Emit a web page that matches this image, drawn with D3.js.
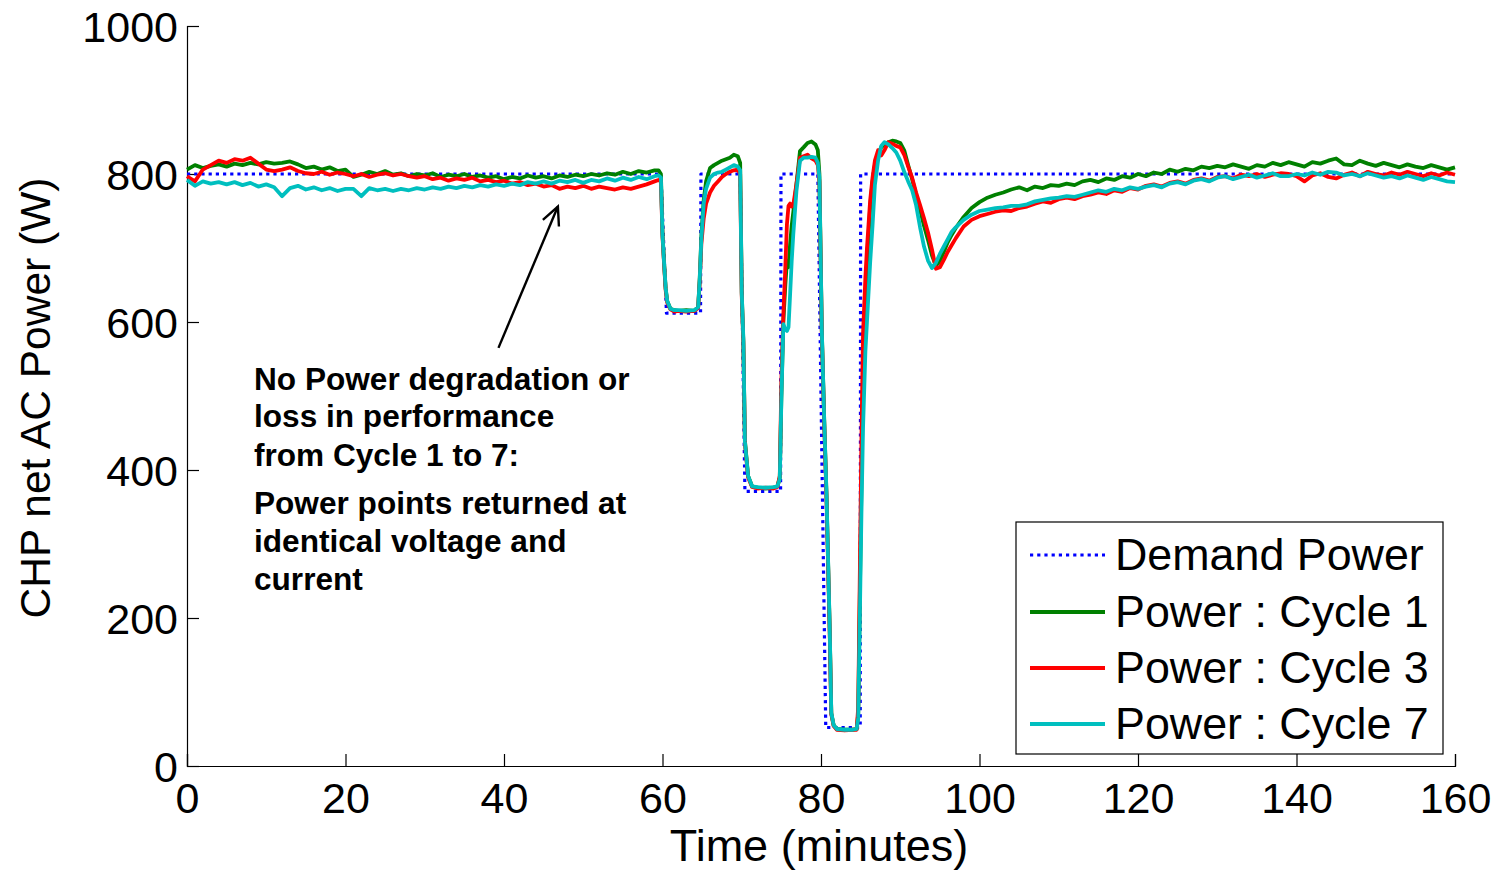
<!DOCTYPE html>
<html>
<head>
<meta charset="utf-8">
<script src="https://cdn.jsdelivr.net/npm/d3@7"></script>
<style>
    body { margin: 0; background: #fff; }
    svg { display: block; font-family: Arial, "Liberation Sans", sans-serif; }
</style>
</head>
<body>
<svg id="chart"></svg>
<script>
// Demand power set points (step profile)
const demandMinutes = [0, 59.8, 60.5, 64.8, 64.85, 69.8, 70.4, 74.9, 74.95, 79.6, 80.6, 84.95, 85.0, 160];
const demandWatts = [800, 800, 612, 612, 800, 800, 371, 371, 800, 800, 52, 52, 800, 800];

// Time grid shared by the measured cycles: steady part, step tests, recovery
const minutesSteady = [0, 1, 2, 3, 4, 5, 6, 7, 8, 9, 10, 11, 12, 13, 14, 15, 16, 17, 18, 19,
    20, 21, 22, 23, 24, 25, 26, 27, 28, 29, 30, 31, 32, 33, 34, 35, 36, 37, 38, 39,
    40, 41, 42, 43, 44, 45, 46, 47, 48, 49, 50, 51, 52, 53, 54, 55, 56, 57, 58, 59];
const minutesSteps = [59.5, 59.8, 60, 60.2, 60.4, 60.6, 61, 61.5, 62, 63, 64, 64.5, 64.7, 64.9, 65.2, 65.5,
    66, 66.5, 67, 67.5, 68, 68.5, 69, 69.5, 69.8, 70, 70.2, 70.4, 70.8, 71.3, 72, 73, 74, 74.5, 74.8,
    75, 75.25, 75.5, 75.7, 75.9, 76.1, 76.3, 76.5, 76.9, 77.35, 77.8, 78.3, 78.8, 79.3, 79.6, 79.8,
    80.1, 80.4, 80.7, 81.1, 81.3, 81.6, 82, 83, 84, 84.5, 84.7, 84.9, 85.1, 85.3, 85.6, 85.8, 86.2,
    86.5, 86.8, 87.2, 87.6, 88, 88.5, 89, 89.5, 90, 90.5, 91, 91.5, 92, 92.5, 93, 93.5, 94, 94.5,
    95, 95.5, 96, 96.5, 97, 98, 99];
const minutesRecovery = [100, 101, 102, 103, 104, 105, 106, 107, 108, 109, 110, 111, 112, 113, 114, 115,
    116, 117, 118, 119, 120, 121, 122, 123, 124, 125, 126, 127, 128, 129, 130, 131, 132, 133, 134, 135,
    136, 137, 138, 139, 140, 141, 142, 143, 144, 145, 146, 147, 148, 149, 150, 151, 152, 153, 154, 155,
    156, 157, 158, 159, 160];

// Cycle 1 (W)
const cycle1Steady = [806, 812, 808, 811, 813, 810, 814, 812, 815, 813, 816, 814, 815, 817, 813, 808, 810, 806, 809, 804,
    806, 796, 799, 803, 800, 804, 799, 801, 797, 800, 798, 801, 796, 799, 797, 800, 796, 798, 795, 797,
    793, 796, 794, 798, 795, 797, 794, 798, 796, 799, 797, 800, 798, 801, 799, 803, 800, 804, 802, 805];
const cycle1Steps = [805, 800, 720, 680, 645, 628, 618, 616, 615, 616, 615, 620, 660, 715, 765, 790,
    808, 812, 815, 818, 820, 822, 826, 824, 815, 640, 575, 440, 392, 378, 376, 375, 376, 378, 390,
    500, 600, 650, 682, 674, 705, 730, 748, 786, 831, 836, 842, 844, 840, 832, 800,
    590, 470, 364, 184, 71, 55, 50, 49, 49, 50, 71, 229, 380, 520, 620, 680, 755,
    790, 812, 828, 836, 840, 843, 845, 844, 842, 832, 812, 793, 772, 752, 730, 711, 690, 676,
    682, 695, 708, 718, 727, 742, 754];
const cycle1Recovery = [762, 768, 772, 775, 779, 782, 778, 783, 781, 785, 784, 787, 785, 790, 792, 789,
    794, 792, 797, 795, 800, 797, 802, 800, 806, 803, 807, 805, 810, 808, 811, 809, 813, 810, 807, 812,
    810, 815, 812, 816, 813, 810, 816, 814, 818, 821, 813, 812, 818, 814, 811, 815, 812, 809, 813, 810,
    808, 812, 809, 806, 809];

// Cycle 3 (W)
const cycle3Steady = [797, 790, 806, 812, 818, 815, 820, 818, 822, 814, 806, 804, 806, 809, 804, 801, 800, 803, 799, 802,
    800, 797, 800, 796, 799, 801, 798, 800, 797, 795, 797, 793, 795, 791, 794, 792, 795, 790, 792, 789,
    791, 787, 789, 785, 787, 783, 785, 780, 783, 781, 784, 780, 783, 781, 779, 782, 780, 783, 786, 790];
const cycle3Steps = [792, 790, 715, 678, 643, 626, 617, 614, 615, 614, 615, 619, 655, 705, 740, 760,
    775, 784, 790, 796, 800, 803, 805, 806, 800, 635, 572, 436, 390, 377, 375, 376, 375, 377, 392,
    520, 610, 674, 732, 757, 760, 756, 758, 786, 822, 824, 826, 821, 818, 812, 790,
    585, 465, 360, 180, 70, 54, 49, 48, 49, 49, 80, 260, 440, 583, 660, 700, 764,
    795, 818, 832, 825, 832, 843, 841, 838, 836, 826, 810, 795, 775, 758, 740, 721, 698, 672,
    674, 684, 695, 704, 713, 729, 738];
const cycle3Recovery = [743, 746, 749, 751, 750, 754, 756, 760, 763, 761, 766, 768, 766, 770, 772, 775,
    773, 778, 776, 781, 779, 784, 786, 783, 788, 790, 787, 792, 794, 791, 796, 797, 794, 799, 797, 800,
    796, 799, 801, 800, 797, 790, 798, 801, 796, 794, 799, 802, 797, 803, 800, 798, 802, 799, 803, 800,
    797, 801, 798, 802, 799];

// Cycle 7 (W)
const cycle7Steady = [792, 784, 790, 787, 789, 786, 789, 785, 788, 783, 786, 782, 770, 781, 784, 779, 782, 778, 781, 777,
    780, 780, 770, 781, 778, 780, 777, 780, 778, 781, 779, 782, 780, 783, 781, 784, 782, 785, 783, 786,
    784, 787, 785, 789, 787, 790, 787, 791, 789, 792, 788, 792, 790, 794, 791, 795, 792, 796, 793, 797];
const cycle7Steps = [798, 795, 718, 680, 646, 628, 618, 616, 616, 615, 616, 620, 658, 712, 760, 780,
    795, 800, 802, 803, 806, 809, 812, 810, 805, 640, 578, 438, 392, 378, 377, 376, 377, 378, 388,
    495, 597, 590, 588, 593, 637, 682, 718, 777, 818, 822, 822, 823, 822, 815, 795,
    590, 470, 366, 186, 72, 55, 50, 49, 49, 50, 65, 200, 340, 455, 560, 600, 680,
    730, 785, 818, 838, 843, 840, 835, 829, 818, 803, 790, 778, 758, 728, 702, 683, 673, 680,
    692, 702, 712, 722, 728, 738, 745];
const cycle7Recovery = [750, 752, 754, 755, 757, 757, 759, 763, 765, 767, 768, 770, 769, 772, 775, 778,
    776, 780, 778, 782, 780, 783, 785, 782, 787, 789, 786, 791, 793, 790, 795, 797, 793, 796, 799, 795,
    798, 801, 797, 797, 800, 798, 802, 799, 803, 802, 798, 800, 797, 801, 798, 795, 797, 794, 798, 795,
    792, 796, 793, 790, 789];

// Axis ticks
const xTicks = [0, 20, 40, 60, 80, 100, 120, 140, 160];
const yTicks = [0, 200, 400, 600, 800, 1000];

const seriesNames = ['Demand Power', 'Power : Cycle 1', 'Power : Cycle 3', 'Power : Cycle 7'];
const seriesColors = ['#0000FF', '#008000', '#FF0000', '#00BFBF'];

const annotationLines = [
    'No Power degradation or',
    'loss in performance',
    'from Cycle 1 to 7:',
    'Power points returned at',
    'identical voltage and',
    'current'
];

// Chart dimensions
const width = 1497;
const height = 872;
const margin = { top: 26, right: 42, bottom: 106, left: 187 };

const svg = d3.select('#chart')
    .attr('width', width)
    .attr('height', height);

svg.append('rect').attr('width', width).attr('height', height).attr('fill', '#fff');

const x = d3.scaleLinear().domain([0, 160]).range([margin.left, width - margin.right]);
const y = d3.scaleLinear().domain([0, 1000]).range([height - margin.bottom, margin.top]);

// Build point lists for each series
const minutesAll = minutesSteady.concat(minutesSteps, minutesRecovery);
const toPoints = (xs, ys) => xs.map((t, i) => [t, ys[i]]);

const series = [
    toPoints(demandMinutes, demandWatts),
    toPoints(minutesAll, cycle1Steady.concat(cycle1Steps, cycle1Recovery)),
    toPoints(minutesAll, cycle3Steady.concat(cycle3Steps, cycle3Recovery)),
    toPoints(minutesAll, cycle7Steady.concat(cycle7Steps, cycle7Recovery))
];

const line = d3.line().x(d => x(d[0])).y(d => y(d[1]));

// Axes (left and bottom only, ticks pointing inwards)
const xAxis = svg.append('g')
    .attr('transform', `translate(0,${y(0)})`)
    .call(d3.axisBottom(x).tickValues(xTicks).tickSize(-12).tickPadding(16).tickFormat(d3.format('d')));
const yAxis = svg.append('g')
    .attr('transform', `translate(${x(0)},0)`)
    .call(d3.axisLeft(y).tickValues(yTicks).tickSize(-12).tickPadding(9).tickFormat(d3.format('d')));

[xAxis, yAxis].forEach(ax => {
    ax.select('.domain').attr('stroke', '#000').attr('stroke-width', 1.2);
    ax.selectAll('.tick line').attr('stroke', '#000').attr('stroke-width', 1.2);
    ax.selectAll('.tick text')
        .attr('fill', '#000')
        .style('font-size', '43px')
        .style('font-family', 'Arial, "Liberation Sans", sans-serif');
});
xAxis.selectAll('.tick text').attr('dy', '0.71em');
yAxis.selectAll('.tick text').attr('dy', '0.36em');

// Axis titles
svg.append('text')
    .attr('x', (x(0) + x(160)) / 2 - 2)
    .attr('y', 861)
    .attr('text-anchor', 'middle')
    .style('font-size', '45px')
    .text('Time (minutes)');

svg.append('text')
    .attr('transform', `translate(50,${(y(0) + y(1000)) / 2 + 2}) rotate(-90)`)
    .attr('text-anchor', 'middle')
    .style('font-size', '42.5px')
    .text('CHP net AC Power (W)');

// Data lines
svg.append('g')
    .selectAll('path')
    .data(series)
    .enter()
    .append('path')
    .attr('d', line)
    .attr('fill', 'none')
    .attr('stroke', (d, i) => seriesColors[i])
    .attr('stroke-width', (d, i) => i === 0 ? 3.2 : 3.8)
    .attr('stroke-dasharray', (d, i) => i === 0 ? '3.2,4' : null)
    .attr('stroke-linejoin', 'round')
    .attr('stroke-linecap', 'butt');

// Annotation arrow
const tail = [x(39.3), y(565)];
const tip = [x(46.8), y(756)];
const ang = Math.atan2(tip[1] - tail[1], tip[0] - tail[0]);
const headLen = 20;
const ann = svg.append('g').attr('stroke', '#000').attr('stroke-width', 2.4).attr('fill', 'none');
ann.append('line')
    .attr('x1', tail[0]).attr('y1', tail[1])
    .attr('x2', tip[0]).attr('y2', tip[1]);
ann.append('path')
    .attr('d', `M${tip[0] + headLen * Math.cos(ang + Math.PI - 0.45)},${tip[1] + headLen * Math.sin(ang + Math.PI - 0.45)}` +
        `L${tip[0]},${tip[1]}` +
        `L${tip[0] + headLen * Math.cos(ang + Math.PI + 0.45)},${tip[1] + headLen * Math.sin(ang + Math.PI + 0.45)}`);

// Annotation text
const annBaselines = [390, 427, 466, 514, 552, 590];
svg.append('g')
    .selectAll('text')
    .data(annotationLines)
    .enter()
    .append('text')
    .attr('x', 254)
    .attr('y', (d, i) => annBaselines[i])
    .style('font-size', '31.6px')
    .style('font-weight', 'bold')
    .text(d => d);

// Legend
const legend = svg.append('g');
legend.append('rect')
    .attr('x', 1016).attr('y', 522)
    .attr('width', 427).attr('height', 232)
    .attr('fill', '#fff')
    .attr('stroke', '#000')
    .attr('stroke-width', 1.2);

const legendBaselines = [570, 627, 683, 739];
seriesNames.forEach((name, i) => {
    legend.append('line')
        .attr('x1', 1030).attr('x2', 1105)
        .attr('y1', legendBaselines[i] - 15).attr('y2', legendBaselines[i] - 15)
        .attr('stroke', seriesColors[i])
        .attr('stroke-width', i === 0 ? 3.2 : 3.8)
        .attr('stroke-dasharray', i === 0 ? '3.2,4' : null);
    legend.append('text')
        .attr('x', 1115)
        .attr('y', legendBaselines[i])
        .style('font-size', '44.8px')
        .text(name);
});
</script>
</body>
</html>
